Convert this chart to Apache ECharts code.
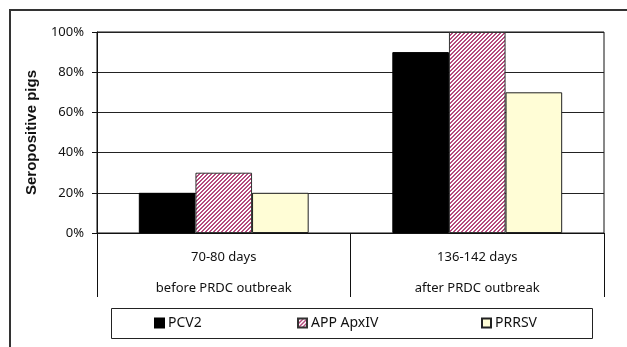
<!DOCTYPE html>
<html><head><meta charset="utf-8">
<script src="https://cdn.jsdelivr.net/npm/echarts@6/dist/echarts.min.js"></script>
<style>html,body{margin:0;padding:0;background:#fff}#c{width:627px;height:347px}</style>
</head><body><div id="c"></div>
<script>
var periods = ['70-80 days', '136-142 days'];
var phases = ['before PRDC outbreak', 'after PRDC outbreak'];
var seriesNames = ['PCV2', 'APP ApxIV', 'PRRSV'];
var pcv2 = [20, 90];
var appApx = [30, 100];
var prrsv = [20, 70];
var yTicks = [0, 20, 40, 60, 80, 100];

var categories = periods.map(function (p, i) { return p + '\n' + phases[i]; });

var cv = document.createElement('canvas');
cv.width = 4; cv.height = 4;
var cx = cv.getContext('2d');
cx.fillStyle = '#ffffff'; cx.fillRect(0, 0, 4, 4);
cx.fillStyle = '#b54a7d';
for (var x = 0; x < 4; x++) for (var y = 0; y < 4; y++) {
  if ((x + y) % 4 < 2) cx.fillRect(x, y, 1, 1);
}
var stripe = { image: cv, repeat: 'repeat' };

var FONT = 'Noto Sans';
var legendLefts = [154, 297, 481];
var legends = seriesNames.map(function (n, i) {
  return {
    data: [n], left: legendLefts[i], top: 316, padding: 0,
    itemWidth: 9, itemHeight: 9, itemGap: 0, icon: 'rect',
    textStyle: { fontFamily: FONT, fontSize: 14, color: '#111', padding: [0, 0, 0, -1] },
    z: 5
  };
});

var chart = echarts.init(document.getElementById('c'), null, { renderer: 'canvas' });
chart.setOption({
  animation: false,
  backgroundColor: '#fff',
  graphic: [
    { type: 'rect', shape: { x: 10, y: 10, width: 700, height: 400 }, style: { fill: 'none', stroke: '#333', lineWidth: 2 }, z: 0 },
    { type: 'rect', shape: { x: 111.5, y: 308.5, width: 481, height: 30 }, style: { fill: '#fff', stroke: '#222', lineWidth: 1 }, z: 1 }
  ],
  grid: { left: 97, right: 23, top: 32, bottom: 114, show: true, borderColor: '#111', borderWidth: 1 },
  legend: legends,
  xAxis: {
    type: 'category', data: categories,
    axisLine: { lineStyle: { color: '#111', width: 1 } },
    axisTick: { show: true, length: 64, lineStyle: { color: '#111' } },
    axisLabel: { margin: 9, lineHeight: 31, fontFamily: FONT, fontSize: 13, color: '#111' }
  },
  yAxis: {
    type: 'value', min: 0, max: 100, interval: 20,
    name: 'Seropositive pigs', nameLocation: 'middle', nameGap: 58,
    nameTextStyle: { fontFamily: 'Liberation Sans', fontWeight: 'bold', fontSize: 15, color: '#111' },
    axisLine: { show: true, lineStyle: { color: '#111' } },
    axisTick: { show: true, length: 5, lineStyle: { color: '#111' } },
    axisLabel: { margin: 13, fontFamily: FONT, fontSize: 13, color: '#111', formatter: function (v) { return yTicks.indexOf(v) >= 0 ? v + '%' : ''; } },
    splitLine: { show: true, lineStyle: { color: '#222', width: 1 } }
  },
  series: [
    { name: seriesNames[0], type: 'bar', data: pcv2, barGap: '0%', barCategoryGap: '33%', itemStyle: { color: '#000', borderColor: '#000', borderWidth: 1 } },
    { name: seriesNames[1], type: 'bar', data: appApx, itemStyle: { color: stripe, borderColor: '#333', borderWidth: 1 } },
    { name: seriesNames[2], type: 'bar', data: prrsv, itemStyle: { color: '#fffdd6', borderColor: '#222', borderWidth: 1 } }
  ]
});
</script></body></html>
